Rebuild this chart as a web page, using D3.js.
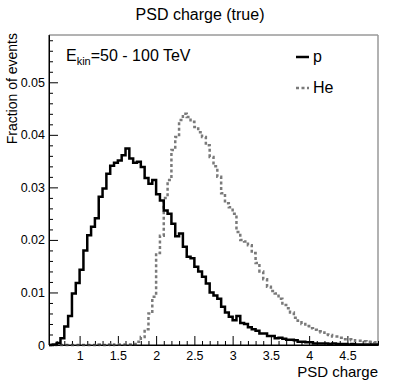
<!DOCTYPE html>
<html lang="en">
<head>
<meta charset="UTF-8">
<title>PSD charge (true)</title>
<script src="https://cdn.jsdelivr.net/npm/d3@7"></script>
<style>
  body { margin: 0; background: #fff; }
  svg { display: block; font-family: "Liberation Sans", Arial, sans-serif; }
  .axis path { stroke: #000; stroke-width: 1; }
  .axis line { stroke: #000; stroke-width: 1; }
  .axis text { font-size: 12.5px; fill: #000; font-family: "Liberation Sans", Arial, sans-serif; }
</style>
</head>
<body>
<svg id="chart"></svg>
<script>
// histogram bins: 0.6 .. 4.9, width 0.05
const binStart = 0.6
const binWidth = 0.05

// proton, fraction of events per bin
const protonValues = [
  0, 0.0001, 0.0004, 0.0013, 0.0035, 0.0055, 0.0098, 0.0118, 0.0143, 0.0180,
  0.0209, 0.0225, 0.0241, 0.0282, 0.0298, 0.0326, 0.0341, 0.0347, 0.0351, 0.0361,
  0.0374, 0.0355, 0.0347, 0.0349, 0.0339, 0.0318, 0.0307, 0.0314, 0.0287, 0.0275,
  0.0256, 0.0250, 0.0231, 0.0207, 0.0212, 0.0187, 0.0168, 0.0165, 0.0149, 0.0140,
  0.0130, 0.0117, 0.0100, 0.0094, 0.0088, 0.0073, 0.0062, 0.0054, 0.0047, 0.0055,
  0.0042, 0.0040, 0.0034, 0.0030, 0.0027, 0.0022, 0.0022, 0.0017, 0.0017, 0.0013,
  0.0014, 0.0012, 0.0010, 0.0010, 0.0009, 0.0006, 0.0006, 0.0005, 0.0005, 0.0003,
  0.0003, 0.0003, 0.0003, 0.0002, 0.0003, 0.0002, 0.0002, 0.0002, 0.0001, 0.0002,
  0.0001, 0.0001, 0.0001, 0.0001, 0.0001, 0.0001
]

// helium
const heliumValues = [
  0, 0, 0, 0, 0, 0, 0, 0, 0, 0,
  0, 0, 0, 0.0001, 0, 0.0001, 0, 0.0001, 0.0001, 0.0001,
  0.0001, 0.0001, 0.0002, 0.0006, 0.0015, 0.0030, 0.0060, 0.0092, 0.0175, 0.0208,
  0.0280, 0.0314, 0.0371, 0.0396, 0.0428, 0.0440, 0.0434, 0.0425, 0.0415, 0.0405,
  0.0396, 0.0380, 0.0358, 0.0340, 0.0320, 0.0289, 0.0270, 0.0262, 0.0250, 0.0215,
  0.0200, 0.0197, 0.0190, 0.0175, 0.0156, 0.0140, 0.0125, 0.0111, 0.0103, 0.0098,
  0.0088, 0.0076, 0.0070, 0.0062, 0.0052, 0.0046, 0.0040, 0.0036, 0.0032, 0.0029,
  0.0026, 0.0024, 0.0020, 0.0019, 0.0016, 0.0016, 0.0014, 0.0011, 0.0011, 0.0009,
  0.0008, 0.0008, 0.0007, 0.0006, 0.0006, 0.0005
]

const xMajorTicks = [1, 1.5, 2, 2.5, 3, 3.5, 4, 4.5]
const yMajorTicks = [0, 0.01, 0.02, 0.03, 0.04, 0.05]

const title = "PSD charge (true)"
const xTitle = "PSD charge"
const yTitle = "Fraction of events"
const legendNames = ["p", "He"]

const width = 399, height = 388
const padL = 49, padR = 378, padT = 35, padB = 345

const svg = d3.select('#chart').attr('width', width).attr('height', height)

const x = d3.scaleLinear().domain([0.6, 4.9]).range([padL, padR])
const y = d3.scaleLinear().domain([0, 0.059]).range([padB, padT])

// minor ticks
let xMinor = d3.range(6, 50).map(d => d / 10).filter(d => !xMajorTicks.some(m => Math.abs(m - d) < 1e-6))
let yMinor = d3.range(1, 30).map(d => d * 0.002).filter(d => !yMajorTicks.some(m => Math.abs(m - d) < 1e-6))

// frame (top, right)
svg.append('line').attr('x1', padL).attr('x2', padR).attr('y1', padT).attr('y2', padT)
  .attr('stroke', '#666').attr('stroke-width', 1)
svg.append('line').attr('x1', padR).attr('x2', padR).attr('y1', padT).attr('y2', padB)
  .attr('stroke', '#999').attr('stroke-width', 1.5)

// x axis
svg.append('g').attr('class', 'axis')
  .attr('transform', `translate(0,${padB})`)
  .call(d3.axisBottom(x).tickValues(xMinor).tickSizeInner(-4).tickSizeOuter(0).tickFormat(''))
svg.append('g').attr('class', 'axis')
  .attr('transform', `translate(0,${padB})`)
  .call(d3.axisBottom(x).tickValues(xMajorTicks).tickSizeInner(-9).tickSizeOuter(0).tickPadding(6).tickFormat(d3.format('')))

// y axis
svg.append('g').attr('class', 'axis')
  .attr('transform', `translate(${padL},0)`)
  .call(d3.axisLeft(y).tickValues(yMinor).tickSizeInner(-4).tickSizeOuter(0).tickFormat(''))
svg.append('g').attr('class', 'axis')
  .attr('transform', `translate(${padL},0)`)
  .call(d3.axisLeft(y).tickValues(yMajorTicks).tickSizeInner(-9).tickSizeOuter(0).tickPadding(4).tickFormat(d => d === 0 ? '0' : d3.format('.2f')(d)))

// histograms as step lines
function stepPoints(values) {
  let pts = [[binStart, 0]]
  values.forEach((v, i) => pts.push([binStart + i * binWidth, v]))
  pts.push([binStart + values.length * binWidth, values[values.length - 1]])
  return pts
}
const line = d3.line().x(d => x(d[0])).y(d => y(d[1])).curve(d3.curveStepAfter)

svg.append('path')
  .datum(stepPoints(heliumValues))
  .attr('d', line)
  .attr('fill', 'none')
  .attr('stroke', '#7a7a7a')
  .attr('stroke-width', 2.5)
  .attr('stroke-dasharray', '3,2.5')

svg.append('path')
  .datum(stepPoints(protonValues))
  .attr('d', line)
  .attr('fill', 'none')
  .attr('stroke', '#000')
  .attr('stroke-width', 2.5)

// redraw left and bottom axis lines on top
svg.append('line').attr('x1', padL).attr('x2', padR).attr('y1', padB).attr('y2', padB).attr('stroke', '#000')
svg.append('line').attr('x1', padL).attr('x2', padL).attr('y1', padT).attr('y2', padB).attr('stroke', '#000')

// titles
svg.append('text').attr('x', 200).attr('y', 20).attr('text-anchor', 'middle')
  .attr('font-size', 16).text(title)
svg.append('text').attr('x', padR).attr('y', 377).attr('text-anchor', 'end')
  .attr('font-size', 15).text(xTitle)
svg.append('text').attr('transform', `translate(17,${padT - 2}) rotate(-90)`).attr('text-anchor', 'end')
  .attr('font-size', 14).text(yTitle)

// energy label
let ek = svg.append('text').attr('x', 66).attr('y', 61).attr('font-size', 16)
ek.append('tspan').text('E')
ek.append('tspan').attr('font-size', 11).attr('dy', 4).text('kin')
ek.append('tspan').attr('dy', -4).text('=50 - 100 TeV')

// legend
const legendY = [57, 88]
svg.append('line').attr('x1', 296).attr('x2', 309).attr('y1', legendY[0]).attr('y2', legendY[0])
  .attr('stroke', '#000').attr('stroke-width', 2.5)
svg.append('line').attr('x1', 296).attr('x2', 309).attr('y1', legendY[1]).attr('y2', legendY[1])
  .attr('stroke', '#7a7a7a').attr('stroke-width', 2.5).attr('stroke-dasharray', '3,2.5')
legendNames.forEach((n, i) => {
  svg.append('text').attr('x', 313).attr('y', legendY[i] + 5).attr('font-size', 16).text(n)
})
</script>
</body>
</html>
